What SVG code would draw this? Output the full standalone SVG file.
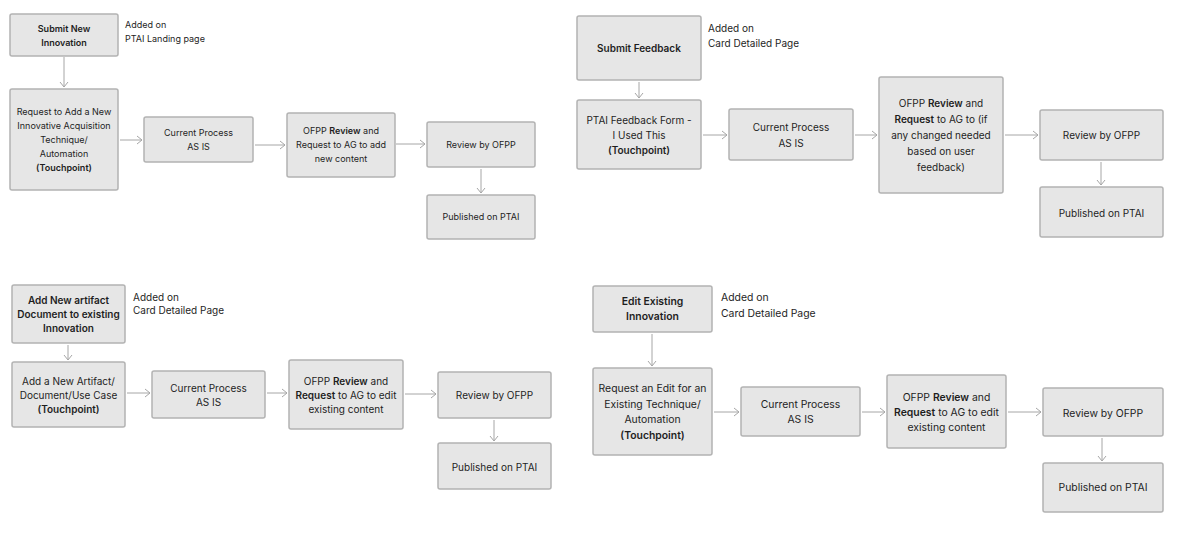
<svg xmlns="http://www.w3.org/2000/svg" width="1180" height="534" viewBox="0 0 1180 534">
<style>
.b{fill:#e6e6e6;stroke:#b3b3b3;stroke-width:1.5}
text{font-family:Inter,"Liberation Sans",sans-serif;fill:#1e1e1e;text-anchor:middle}
.t{font-size:9px}
.s{font-size:10px}
.m{font-size:10.4px}
.l{font-size:10px}
.a{text-anchor:start}
.bd{font-weight:600}
.c line{stroke:#a6a6a6;stroke-width:1;marker-end:url(#ah)}
</style>
<defs>
<marker id="ah" markerUnits="userSpaceOnUse" markerWidth="8" markerHeight="10" refX="6" refY="5" orient="auto">
<path d="M1,1 L6,5 L1,9" fill="none" stroke="#a6a6a6" stroke-width="1"/>
</marker>
</defs>
<rect width="1180" height="534" fill="#ffffff"/>

<!-- Flow 1 -->
<g id="n1"><rect class="b" x="10" y="14" width="108" height="42" rx="2"/>
<text class="t bd" x="64" y="31.5">Submit New</text><text class="t bd" x="64" y="45.5">Innovation</text></g>
<g id="a1"><text class="t a" x="125" y="28">Added on</text><text class="t a" x="125" y="42">PTAI Landing page</text></g>
<g id="n2"><rect class="b" x="10" y="89" width="108" height="101" rx="2"/>
<text class="t" x="64" y="115">Request to Add a New</text><text class="t" x="64" y="129">Innovative Acquisition</text><text class="t" x="64" y="143">Technique/</text><text class="t" x="64" y="157">Automation</text><text class="t bd" x="64" y="171">(Touchpoint)</text></g>
<g id="n3"><rect class="b" x="144" y="117" width="109" height="45" rx="2"/>
<text class="t" x="198.5" y="136">Current Process</text><text class="t" x="198.5" y="150">AS IS</text></g>
<g id="n4"><rect class="b" x="287" y="113" width="108" height="64" rx="2"/>
<text class="t" x="341" y="134">OFPP <tspan class="bd">Review</tspan> and</text><text class="t" x="341" y="148">Request to AG to add</text><text class="t" x="341" y="162">new content</text></g>
<g id="n5"><rect class="b" x="427" y="122" width="108" height="45" rx="2"/>
<text class="t" x="481" y="148">Review by OFPP</text></g>
<g id="n6"><rect class="b" x="427" y="195" width="108" height="44" rx="2"/>
<text class="t" x="481" y="220">Published on PTAI</text></g>

<!-- Flow 2 -->
<g id="m1"><rect class="b" x="577" y="16" width="124" height="64" rx="2"/>
<text class="l bd" x="639" y="51.5">Submit Feedback</text></g>
<g id="a2"><text class="l a" x="708" y="31.5">Added on</text><text class="l a" x="708" y="46.5">Card Detailed Page</text></g>
<g id="m2"><rect class="b" x="577" y="100" width="124" height="69" rx="2"/>
<text class="l" x="639" y="123.5">PTAI Feedback Form -</text><text class="l" x="639" y="138.5">I Used This</text><text class="l bd" x="639" y="153.5">(Touchpoint)</text></g>
<g id="m3"><rect class="b" x="729" y="109" width="124" height="51" rx="2"/>
<text class="l" x="791" y="130.5">Current Process</text><text class="l" x="791" y="146.5">AS IS</text></g>
<g id="m4"><rect class="b" x="879" y="77" width="124" height="116" rx="2"/>
<text class="l" x="941" y="106.5">OFPP <tspan class="bd">Review</tspan> and</text><text class="l" x="941" y="122.5"><tspan class="bd">Request</tspan> to AG to (if</text><text class="l" x="941" y="138.5">any changed needed</text><text class="l" x="941" y="154.5">based on user</text><text class="l" x="941" y="170.5">feedback)</text></g>
<g id="m5"><rect class="b" x="1040" y="110" width="123" height="50" rx="2"/>
<text class="l" x="1101.5" y="138.5">Review by OFPP</text></g>
<g id="m6"><rect class="b" x="1040" y="187" width="123" height="50" rx="2"/>
<text class="l" x="1101.5" y="216.5">Published on PTAI</text></g>

<!-- Flow 3 -->
<g id="p1"><rect class="b" x="12" y="285" width="113" height="58" rx="2"/>
<text class="s bd" x="68.5" y="303.5">Add New artifact</text><text class="s bd" x="68.5" y="317.5">Document to existing</text><text class="s bd" x="68.5" y="331.5">Innovation</text></g>
<g id="a3"><text class="s a" x="133" y="300.5">Added on</text><text class="s a" x="133" y="313.5">Card Detailed Page</text></g>
<g id="p2"><rect class="b" x="12" y="362" width="113" height="65" rx="2"/>
<text class="s" x="68.5" y="384.5">Add a New Artifact/</text><text class="s" x="68.5" y="398.5">Document/Use Case</text><text class="s bd" x="68.5" y="412.5">(Touchpoint)</text></g>
<g id="p3"><rect class="b" x="152" y="371" width="113" height="47" rx="2"/>
<text class="s" x="208.5" y="391.5">Current Process</text><text class="s" x="208.5" y="405.5">AS IS</text></g>
<g id="p4"><rect class="b" x="289" y="360" width="114" height="69" rx="2"/>
<text class="s" x="346" y="384.5">OFPP <tspan class="bd">Review</tspan> and</text><text class="s" x="346" y="398.5"><tspan class="bd">Request</tspan> to AG to edit</text><text class="s" x="346" y="412.5">existing content</text></g>
<g id="p5"><rect class="b" x="438" y="372" width="113" height="46" rx="2"/>
<text class="s" x="494.5" y="398.5">Review by OFPP</text></g>
<g id="p6"><rect class="b" x="438" y="443" width="113" height="46" rx="2"/>
<text class="s" x="494.5" y="470.5">Published on PTAI</text></g>

<!-- Flow 4 -->
<g id="q1"><rect class="b" x="593" y="286" width="119" height="46" rx="2"/>
<text class="m bd" x="652.5" y="305">Edit Existing</text><text class="m bd" x="652.5" y="320">Innovation</text></g>
<g id="a4"><text class="m a" x="721" y="300.5">Added on</text><text class="m a" x="721" y="316.5">Card Detailed Page</text></g>
<g id="q2"><rect class="b" x="593" y="368" width="119" height="87" rx="2"/>
<text class="m" x="652.5" y="392">Request an Edit for an</text><text class="m" x="652.5" y="407.5">Existing Technique/</text><text class="m" x="652.5" y="423">Automation</text><text class="m bd" x="652.5" y="438.5">(Touchpoint)</text></g>
<g id="q3"><rect class="b" x="741" y="387" width="119" height="49" rx="2"/>
<text class="m" x="800.5" y="408">Current Process</text><text class="m" x="800.5" y="423">AS IS</text></g>
<g id="q4"><rect class="b" x="887" y="375" width="119" height="73" rx="2"/>
<text class="m" x="946.5" y="401">OFPP <tspan class="bd">Review</tspan> and</text><text class="m" x="946.5" y="416"><tspan class="bd">Request</tspan> to AG to edit</text><text class="m" x="946.5" y="431">existing content</text></g>
<g id="q5"><rect class="b" x="1043" y="388" width="120" height="48" rx="2"/>
<text class="m" x="1103" y="417">Review by OFPP</text></g>
<g id="q6"><rect class="b" x="1043" y="463" width="120" height="49" rx="2"/>
<text class="m" x="1103" y="491">Published on PTAI</text></g>

<g id="connectors" class="c">
<line x1="64" y1="57" x2="64" y2="87"/>
<line x1="120" y1="140" x2="142" y2="140"/>
<line x1="255" y1="145" x2="285" y2="145"/>
<line x1="396" y1="144" x2="425" y2="144"/>
<line x1="481" y1="169" x2="481" y2="193"/>

<line x1="639" y1="82" x2="639" y2="98"/>
<line x1="703" y1="135" x2="727" y2="135"/>
<line x1="855" y1="135" x2="877" y2="135"/>
<line x1="1005" y1="135" x2="1038" y2="135"/>
<line x1="1101" y1="162" x2="1101" y2="185"/>

<line x1="68" y1="345" x2="68" y2="360"/>
<line x1="127" y1="393" x2="150" y2="393"/>
<line x1="267" y1="393" x2="287" y2="393"/>
<line x1="405" y1="394" x2="436" y2="394"/>
<line x1="494" y1="420" x2="494" y2="441"/>

<line x1="652" y1="334" x2="652" y2="366"/>
<line x1="714" y1="412" x2="739" y2="412"/>
<line x1="862" y1="412" x2="885" y2="412"/>
<line x1="1008" y1="412" x2="1041" y2="412"/>
<line x1="1102" y1="438" x2="1102" y2="461"/>
</g>
</svg>
